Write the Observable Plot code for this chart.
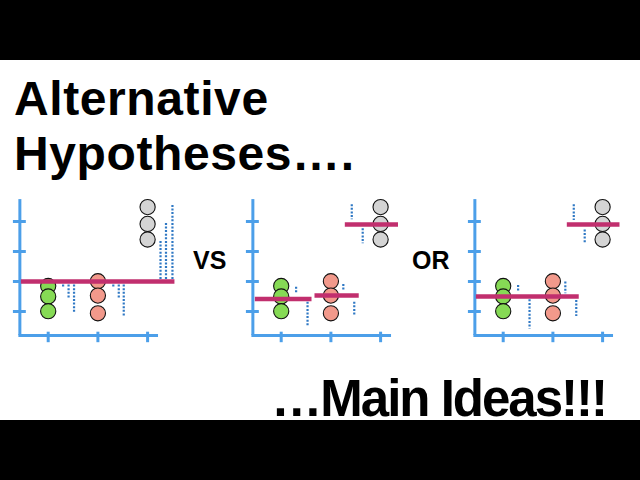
<!DOCTYPE html>
<html>
<head>
<meta charset="utf-8">
<script src="https://cdn.jsdelivr.net/npm/d3@7"></script>
<script src="https://cdn.jsdelivr.net/npm/@observablehq/plot@0.6"></script>
<style>
  html, body { margin: 0; padding: 0; }
  body { width: 640px; height: 480px; position: relative; overflow: hidden; background: #fff;
         font-family: "Liberation Sans", Arial, Helvetica, sans-serif; font-weight: bold; color: #000; }
  .bar { position: absolute; left: 0; width: 640px; height: 60px; background: #000; }
  .txt { position: absolute; white-space: nowrap; }
  .panel { position: absolute; top: 180px; width: 220px; height: 170px; }
  .panel svg { max-width: none !important; }
</style>
</head>
<body>
<div class="bar" style="top:0"></div>
<div class="bar" style="top:420px"></div>
<div id="title" class="txt" style="left:14px; top:71px; font-size:48px; line-height:55px; letter-spacing:0.6px;"></div>
<div id="vs" class="txt" style="left:193px; top:248px; font-size:25px; line-height:25px;"></div>
<div id="or" class="txt" style="left:412px; top:248px; font-size:25px; line-height:25px;"></div>
<div id="foot" class="txt" style="right:34px; top:373px; font-size:51px; line-height:51px; letter-spacing:-2px;"></div>
<div id="p1" class="panel" style="left:-22px"></div>
<div id="p2" class="panel" style="left:211.3px"></div>
<div id="p3" class="panel" style="left:433px"></div>
<script>
// ---- text ----
const titleLines = ["Alternative", "Hypotheses…."];
const joinWords = ["VS", "OR"];
const footText = "…Main Ideas!!!";

// ---- data ----
const groupX = [1, 2, 3];                 // green, red, gray group positions
const greenValues = [1.85, 1.50, 1.01];
const redValues = [2.01, 1.53, 0.94];
const grayValues = [4.48, 3.92, 3.40];
const yTicks = [1, 2, 3, 4];
const xTicks = [1, 2, 3];

// means drawn as thick lines: [y, x1, x2]
const panel1Means = [[2.0, 0.46, 3.55]];
const panel2Means = [[1.42, 0.48, 1.62], [1.53, 1.68, 2.57], [3.90, 2.29, 3.36]];
const panel3Means = [[1.50, 0.46, 2.53], [3.90, 2.29, 3.35]];

// residuals drawn as dotted lines: [x, y1, y2]
const panel1Resid = [[1.30, 2.0, 1.77], [1.41, 2.0, 1.43], [1.52, 2.0, 0.97],
                     [2.31, 2.0, 1.77], [2.42, 2.0, 1.43], [2.52, 2.0, 0.83],
                     [3.26, 2.07, 3.39], [3.37, 2.07, 3.98], [3.50, 2.07, 4.57]];
const panel2Resid = [[1.30, 1.81, 1.59], [1.53, 1.31, 0.48],
                     [2.25, 1.90, 1.70], [2.47, 1.31, 0.83],
                     [2.42, 4.56, 4.06], [2.64, 3.76, 3.26]];
const panel3Resid = [[1.30, 1.87, 1.64], [1.53, 1.39, 0.42],
                     [2.25, 1.98, 1.59], [2.47, 1.37, 0.83],
                     [2.42, 4.56, 4.03], [2.64, 3.72, 3.26]];

// ---- styles / layout ----
const GREEN = "#86da55", RED = "#f2998b", GRAY = "#d4d4d4";
const MEAN = "#c12f6e", AXIS = "#4c9fe9", DOT = "#2f78c4";
const AX0 = 0.43, AX1 = 3.22, AY0 = 0.2, AY1 = 4.73;

document.getElementById("title").innerHTML = titleLines.join("<br>");
document.getElementById("vs").textContent = joinWords[0];
document.getElementById("or").textContent = joinWords[1];
document.getElementById("foot").textContent = footText;

const points = [
  ...greenValues.map(v => ({x: groupX[0], y: v, c: GREEN})),
  ...redValues.map(v => ({x: groupX[1], y: v, c: RED})),
  ...grayValues.map(v => ({x: groupX[2], y: v, c: GRAY}))
];

function panel(means, resid) {
  return Plot.plot({
    width: 220, height: 170, margin: 0,
    x: {domain: [0, 4], range: [20, 218.8], axis: null},
    y: {domain: [0, 5], range: [161, 11], axis: null},
    style: {background: "transparent", overflow: "visible"},
    marks: [
      Plot.ruleX([AX0], {y1: AY0, y2: AY1, stroke: AXIS, strokeWidth: 3}),
      Plot.ruleY([AY0], {x1: AX0 - 0.02, x2: AX1, stroke: AXIS, strokeWidth: 3}),
      Plot.ruleY(yTicks, {x1: AX0 - 0.13, x2: AX0 + 0.13, stroke: AXIS, strokeWidth: 3}),
      Plot.ruleX(xTicks, {y1: -0.04, y2: 0.31, stroke: AXIS, strokeWidth: 3}),
      Plot.ruleX(resid, {x: d => d[0], y1: d => d[1], y2: d => d[2], stroke: DOT, strokeWidth: 2.2, strokeDasharray: "2,1.6"}),
      Plot.dot(points, {x: "x", y: "y", fill: d => d.c, r: 7.6, stroke: "#111", strokeWidth: 1.1}),
      Plot.ruleY(means, {y: d => d[0], x1: d => d[1], x2: d => d[2], stroke: MEAN, strokeWidth: 4.5})
    ]
  });
}

document.getElementById("p1").append(panel(panel1Means, panel1Resid));
document.getElementById("p2").append(panel(panel2Means, panel2Resid));
document.getElementById("p3").append(panel(panel3Means, panel3Resid));
</script>
</body>
</html>
